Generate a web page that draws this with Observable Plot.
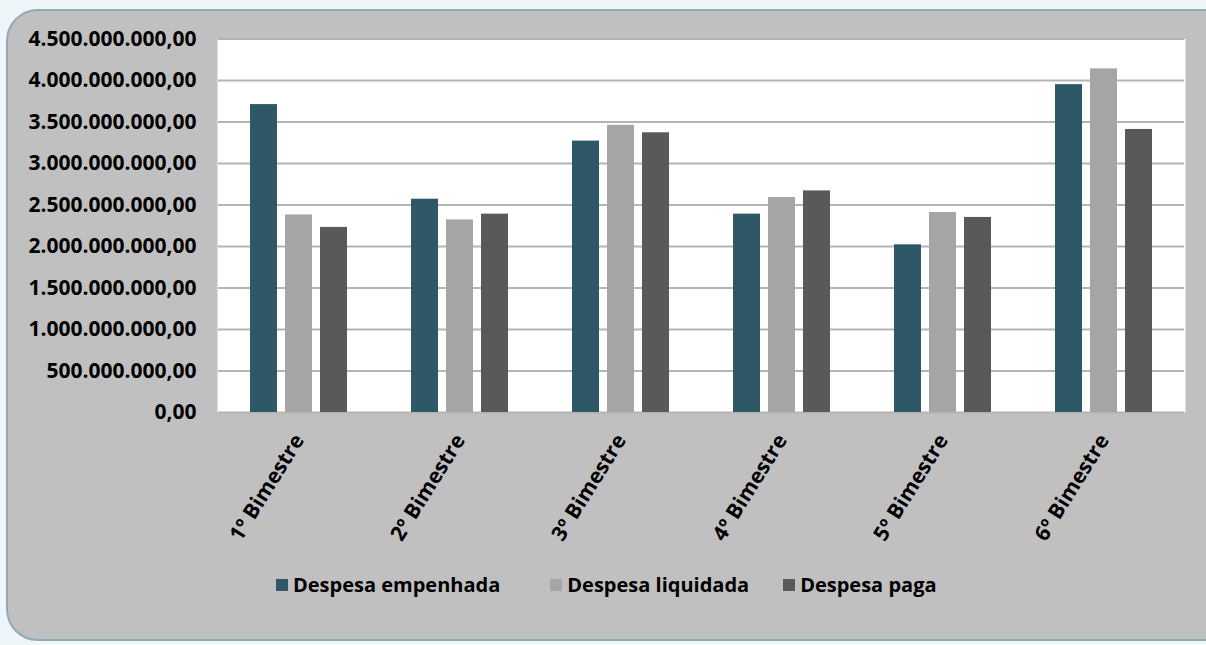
<!DOCTYPE html>
<html lang="pt-BR">
<head>
<meta charset="utf-8">
<script src="https://cdn.jsdelivr.net/npm/d3@7"></script>
<script src="https://cdn.jsdelivr.net/npm/@observablehq/plot@0.6"></script>
<style>
  html, body { margin: 0; padding: 0; }
  body {
    width: 1206px; height: 645px; overflow: hidden; position: relative;
    background: #eef6fa;
    font-family: "Open Sans", "Noto Sans", sans-serif;
  }
  #panel {
    position: absolute; left: 6px; top: 9px; width: 1230px; height: 632px;
    background: #c0c0c0; border: 2px solid #92a9b7; border-radius: 32px;
    box-sizing: border-box;
  }
  #chart { position: absolute; left: 0; top: 0; }
  #legend {
    position: absolute; left: 276px; top: 571px;
    display: flex; align-items: center;
    font-size: 20px; font-weight: 700; color: #000;
  }
  #legend .item { display: flex; align-items: center; gap: 5px; }
  #legend .item:nth-child(1) { margin-right: 50px; }
  #legend .item:nth-child(2) { margin-right: 34px; }
  #legend .sw { width: 12px; height: 12px; display: inline-block; }
</style>
</head>
<body>
<div id="panel"></div>
<div id="chart"></div>
<div id="legend"></div>
<script>
// Bimestres and the three expense series (R$)
const bimestres = ["1º Bimestre", "2º Bimestre", "3º Bimestre", "4º Bimestre", "5º Bimestre", "6º Bimestre"];
const series = ["Despesa empenhada", "Despesa liquidada", "Despesa paga"];
const empenhada = [3.71e9, 2.57e9, 3.27e9, 2.39e9, 2.02e9, 3.95e9];
const liquidada = [2.38e9, 2.32e9, 3.46e9, 2.59e9, 2.41e9, 4.14e9];
const paga      = [2.23e9, 2.39e9, 3.37e9, 2.67e9, 2.35e9, 3.41e9];
const yTicks = [0, 5e8, 1e9, 1.5e9, 2e9, 2.5e9, 3e9, 3.5e9, 4e9, 4.5e9];
const colors = ["#2e5866", "#a5a5a5", "#595959"];

const values = [empenhada, liquidada, paga];
const rows = bimestres.flatMap((b, i) =>
  series.map((s, j) => ({bimestre: b, serie: s, valor: values[j][i]}))
);

const fmt = d3.formatLocale({decimal: ",", thousands: ".", grouping: [3], currency: ["R$", ""]}).format(",.2f");

const chart = Plot.plot({
  width: 1206,
  height: 540,
  marginTop: 38.5,
  marginBottom: 128,
  marginLeft: 216,
  marginRight: 21,
  style: {
    background: "transparent",
    fontFamily: "'Open Sans', 'Noto Sans', sans-serif",
    fontSize: "21px",
    fontWeight: "700",
    color: "#000",
    overflow: "visible"
  },
  fx: {domain: bimestres, padding: 0, label: null},
  x: {domain: series, paddingInner: 0.222, paddingOuter: 0.854, axis: null},
  y: {domain: [0, 4.5e9], label: null},
  color: {domain: series, range: colors},
  marks: [
    // white plot area; facets overlap slightly so no seams show between them
    Plot.frame({fill: "white", stroke: null, insetLeft: -1, insetRight: -1}),
    Plot.gridY(yTicks, {stroke: "#b4b4b4", strokeOpacity: 1, strokeWidth: 2}),
    Plot.barY(rows, {fx: "bimestre", x: "serie", y: "valor", fill: "serie", inset: 0}),
    Plot.axisY(yTicks, {tickSize: 0, tickPadding: 22, tickFormat: fmt, label: null, fontSize: 21, fontWeight: 700}),
    Plot.axisFx({anchor: "bottom", tickRotate: -58, tickSize: 0, tickPadding: 24, label: null, fontSize: 21, fontWeight: 700})
  ]
});
document.getElementById("chart").append(chart);

// Legend built from the same series and colours
const legend = document.getElementById("legend");
series.forEach((s, i) => {
  const item = document.createElement("span");
  item.className = "item";
  const sw = document.createElement("span");
  sw.className = "sw";
  sw.style.background = colors[i];
  const label = document.createElement("span");
  label.textContent = s;
  item.append(sw, label);
  legend.append(item);
});
</script>
</body>
</html>
